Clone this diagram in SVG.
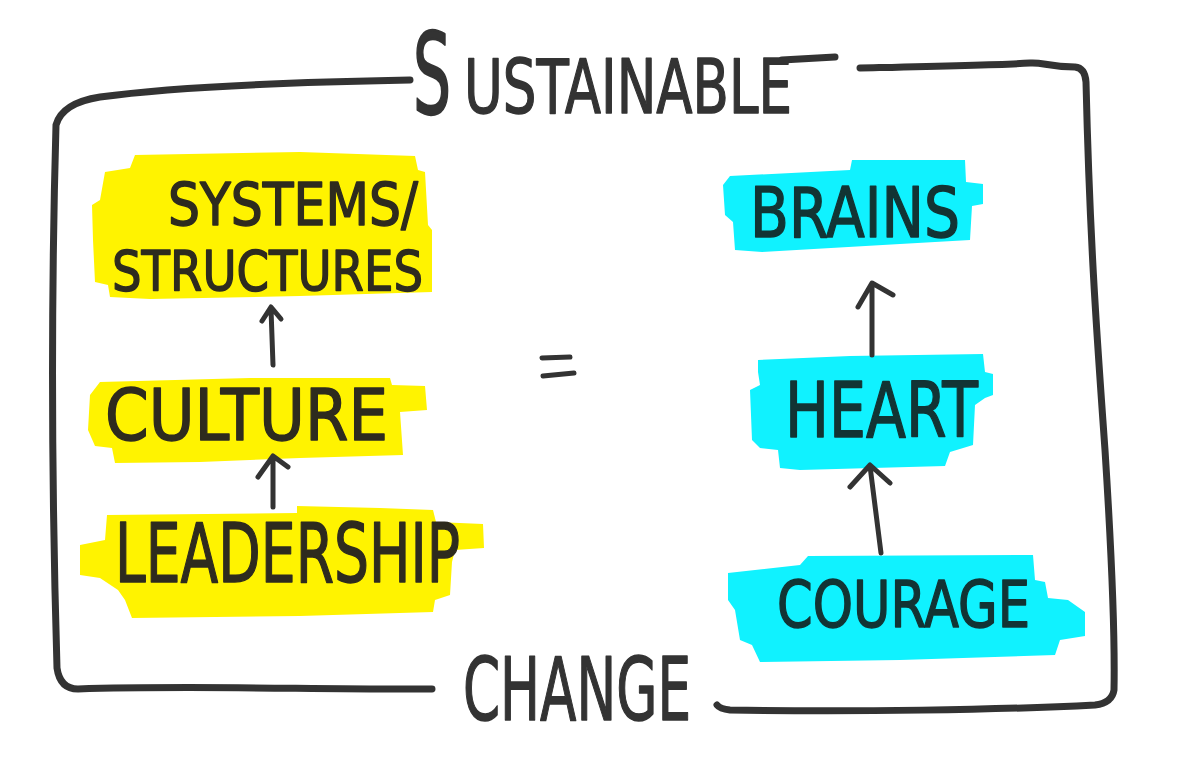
<svg xmlns="http://www.w3.org/2000/svg" width="1200" height="763" viewBox="0 0 1200 763">
<style>
.frame{fill:none;stroke:#333;stroke-width:7;stroke-linecap:round;stroke-linejoin:round}
.yl{fill:#FFF300}
.cy{fill:#10F2FF}
.t{font-family:"DejaVu Sans","Liberation Sans",sans-serif;stroke-width:1.5;stroke-linejoin:round}
.ty{fill:#2e2b1e;stroke:#2e2b1e}
.tc{fill:#123434;stroke:#123434}
.tt{fill:#333;stroke:#333}
.arr{fill:none;stroke:#333;stroke-width:5;stroke-linecap:round;stroke-linejoin:round}
</style>
<rect width="1200" height="763" fill="#fff"/>
<g id="frame">
<path class="frame" d="M 410 80 C 300 82 180 86 100 97 Q 62 103 56 125 C 51 300 52 500 57 668 Q 60 689 78 689 C 200 685 320 690 432 689"/>
<path class="frame" d="M 860 68 C 950 66 1000 65 1030 63 C 1043 62 1048 67 1075 67 Q 1085 68 1086 82 C 1090 250 1098 350 1105 450 C 1112 560 1115 640 1114 690 Q 1112 703 1095 705 C 1000 710 850 712 730 710 Q 720 709 717 705"/>
<path class="frame" d="M 782 60 L 835 57"/>
</g>
<g id="title-sustainable">
<text class="t tt" font-size="75" transform="translate(413,113) scale(0.8,1.5)" x="0" y="0">S</text>
<text class="t tt" x="464" y="113" font-size="75" textLength="328" lengthAdjust="spacingAndGlyphs">USTAINABLE</text>
</g>
<g id="title-change">
<text class="t tt" x="463" y="720" font-size="88" textLength="228" lengthAdjust="spacingAndGlyphs">CHANGE</text>
</g>
<g id="node-systems">
<polygon class="yl" points="135,155 300,152 415,156 418,170 425,172 428,225 432,230 432,292 300,296 150,299 110,297 108,285 95,282 93,240 92,205 100,200 105,172 130,168"/>
<text class="t ty" x="168" y="225" font-size="58" textLength="250" lengthAdjust="spacingAndGlyphs">SYSTEMS/</text>
<text class="t ty" x="112" y="290" font-size="56" textLength="311" lengthAdjust="spacingAndGlyphs">STRUCTURES</text>
</g>
<g id="node-culture">
<polygon class="yl" points="100,382 250,378 390,378 392,385 425,386 427,410 400,412 403,455 300,458 200,462 115,463 112,448 95,446 88,430 90,395"/>
<text class="t ty" x="105" y="440" font-size="72" textLength="283" lengthAdjust="spacingAndGlyphs">CULTURE</text>
</g>
<g id="node-leadership">
<polygon class="yl" points="107,515 297,513 297,506 380,508 433,510 436,522 483,524 484,548 455,550 452,562 450,595 435,600 433,612 300,616 132,618 125,600 118,590 100,578 80,575 80,545 105,540"/>
<text class="t ty" x="115" y="582" font-size="82" textLength="345" lengthAdjust="spacingAndGlyphs">LEADERSHIP</text>
</g>
<g id="node-brains">
<polygon class="cy" points="730,176 850,170 852,160 965,160 966,182 983,184 983,204 972,206 970,240 900,244 762,252 735,250 733,222 725,215 723,185"/>
<text class="t tc" x="750" y="237" font-size="70" textLength="210" lengthAdjust="spacingAndGlyphs">BRAINS</text>
</g>
<g id="node-heart">
<polygon class="cy" points="758,360 850,356 983,354 985,372 993,374 993,395 985,398 975,405 973,445 950,452 945,466 800,470 780,468 778,450 760,448 752,440 750,390 760,385 758,372"/>
<text class="t tc" x="785" y="437" font-size="76" textLength="193" lengthAdjust="spacingAndGlyphs">HEART</text>
</g>
<g id="node-courage">
<polygon class="cy" points="728,573 800,565 808,556 1033,555 1035,580 1045,582 1048,598 1068,600 1085,612 1085,636 1060,640 1055,655 900,660 760,662 752,645 740,640 735,610 728,600"/>
<text class="t tc" x="777" y="627" font-size="64" textLength="253" lengthAdjust="spacingAndGlyphs">COURAGE</text>
</g>
<g id="equals">
<path class="arr" stroke-width="6" d="M 542 358 L 570 357 M 543 376 L 574 373"/>
</g>
<g id="connectors">
<path class="arr" d="M 273 365 L 271 309 M 262 321 L 271 307 L 281 319"/>
<path class="arr" d="M 273 507 L 273 457 M 258 477 L 273 456 L 288 467"/>
<path class="arr" d="M 872 355 L 872 285 M 858 307 L 872 283 L 893 295"/>
<path class="arr" d="M 881 553 L 870 466 M 850 487 L 870 465 L 890 483"/>
</g>
</svg>
